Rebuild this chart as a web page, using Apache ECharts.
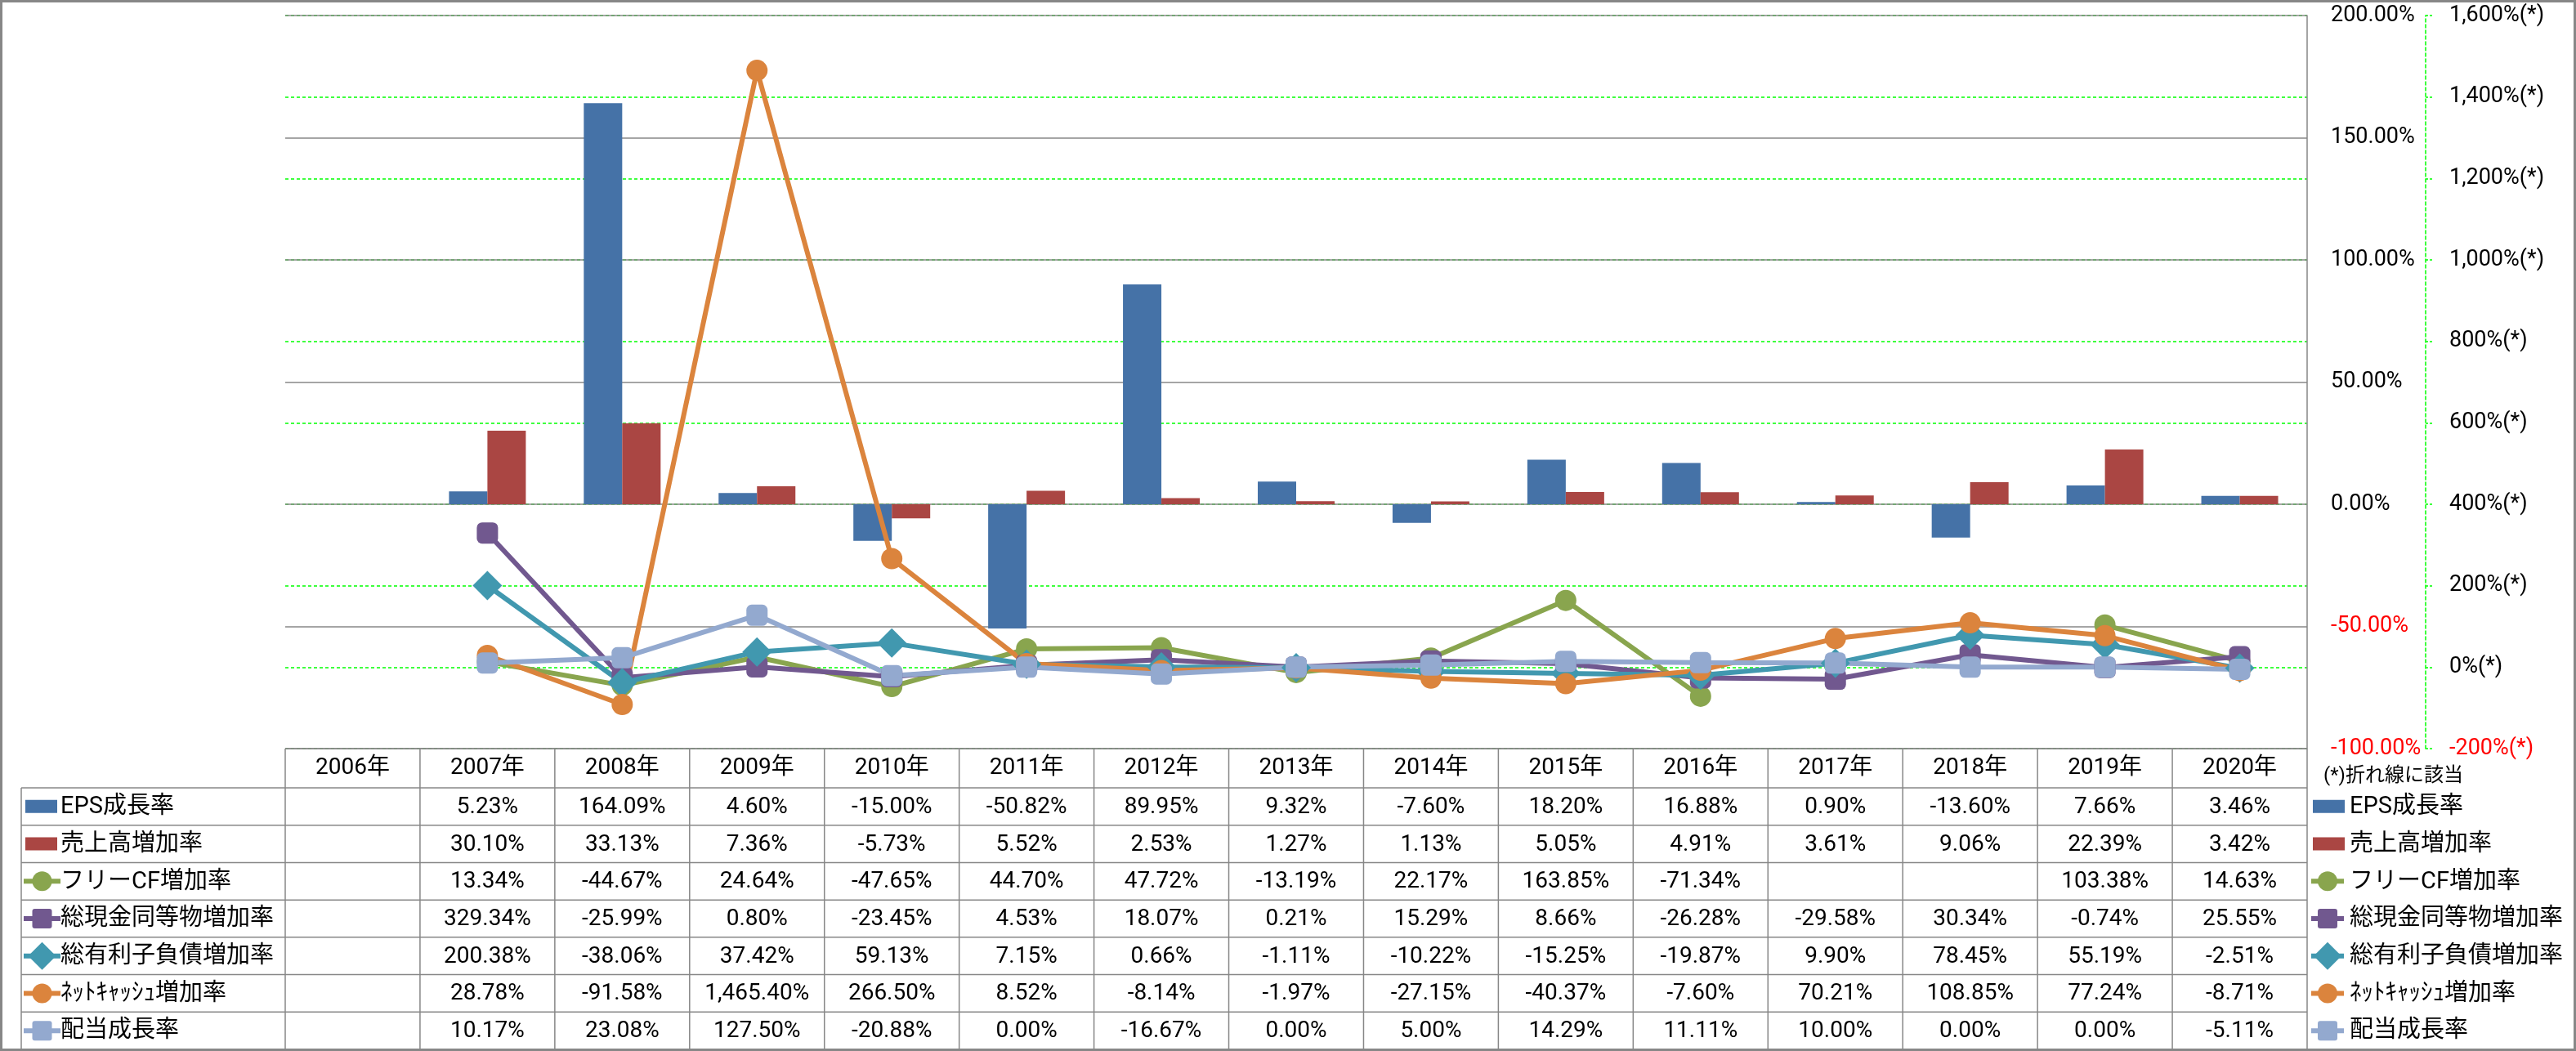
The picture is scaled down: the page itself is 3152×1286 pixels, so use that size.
<!DOCTYPE html>
<html><head><meta charset="utf-8">
<script src="https://cdn.jsdelivr.net/npm/echarts@6/dist/echarts.min.js"></script>
<style>html,body{margin:0;padding:0;background:#fff}#c{width:3152px;height:1286px}</style>
</head><body><div id="c"></div>
<script>
// ---------- DATA ----------
const categories = ['2006年','2007年','2008年','2009年','2010年','2011年','2012年','2013年','2014年','2015年','2016年','2017年','2018年','2019年','2020年'];
const epsGrowth      = [null, 5.23, 164.09, 4.60, -15.00, -50.82, 89.95, 9.32, -7.60, 18.20, 16.88, 0.90, -13.60, 7.66, 3.46];
const salesGrowth    = [null, 30.10, 33.13, 7.36, -5.73, 5.52, 2.53, 1.27, 1.13, 5.05, 4.91, 3.61, 9.06, 22.39, 3.42];
const freeCfGrowth   = [null, 13.34, -44.67, 24.64, -47.65, 44.70, 47.72, -13.19, 22.17, 163.85, -71.34, null, null, 103.38, 14.63];
const cashGrowth     = [null, 329.34, -25.99, 0.80, -23.45, 4.53, 18.07, 0.21, 15.29, 8.66, -26.28, -29.58, 30.34, -0.74, 25.55];
const debtGrowth     = [null, 200.38, -38.06, 37.42, 59.13, 7.15, 0.66, -1.11, -10.22, -15.25, -19.87, 9.90, 78.45, 55.19, -2.51];
const netCashGrowth  = [null, 28.78, -91.58, 1465.40, 266.50, 8.52, -8.14, -1.97, -27.15, -40.37, -7.60, 70.21, 108.85, 77.24, -8.71];
const dividendGrowth = [null, 10.17, 23.08, 127.50, -20.88, 0.00, -16.67, 0.00, 5.00, 14.29, 11.11, 10.00, 0.00, 0.00, -5.11];
const seriesNames = ['EPS成長率','売上高増加率','フリーCF増加率','総現金同等物増加率','総有利子負債増加率','ﾈｯﾄｷｬｯｼｭ増加率','配当成長率'];
const noteText = '(*)折れ線に該当';

// ---------- LAYOUT / STYLE ----------
const W = 3152, H = 1286;
const GL = 349, GR = 2823, GT = 19, GB = 916;
const colW = (GR - GL) / categories.length;
const headTop = 916, rowTop = 964, rowBottom = 1284, rowH = (rowBottom - rowTop) / 7;
const FONT = "Roboto, 'Noto Sans CJK JP', sans-serif";
const GRAY = '#878787';
const defs = [
  {data: epsGrowth,      color: '#4572a7', kind: 'bar'},
  {data: salesGrowth,    color: '#aa4643', kind: 'bar'},
  {data: freeCfGrowth,   color: '#89a54e', kind: 'line', symbol: 'circle'},
  {data: cashGrowth,     color: '#71588f', kind: 'line', symbol: 'roundRect'},
  {data: debtGrowth,     color: '#4198af', kind: 'line', symbol: 'diamond'},
  {data: netCashGrowth,  color: '#db843d', kind: 'line', symbol: 'circle'},
  {data: dividendGrowth, color: '#93a9cf', kind: 'line', symbol: 'roundRect'}
];
const symSize = {circle: 26, roundRect: 26, diamond: 36};

function fmtPct(v) {
  if (v === null || v === undefined) return '';
  return v.toLocaleString('en-US', {minimumFractionDigits: 2, maximumFractionDigits: 2}) + '%';
}

const series = defs.map((d, i) => {
  if (d.kind === 'bar') {
    return {
      name: seriesNames[i], type: 'bar', yAxisIndex: 0, data: d.data,
      barWidth: 47, barGap: '0%', itemStyle: {color: d.color}
    };
  }
  return {
    name: seriesNames[i], type: 'line', yAxisIndex: 1, data: d.data,
    connectNulls: false, symbol: d.symbol, symbolSize: symSize[d.symbol],
    showAllSymbol: true,
    lineStyle: {color: d.color, width: 6},
    itemStyle: {color: d.color}
  };
});

// ---------- TABLE + LEGENDS (graphic) ----------
const g = [];
function hline(x1, x2, y) { g.push({type: 'line', shape: {x1, y1: y, x2, y2: y}, style: {stroke: GRAY, lineWidth: 1.5}, z: 10}); }
function vline(x, y1, y2) { g.push({type: 'line', shape: {x1: x, y1, x2: x, y2}, style: {stroke: GRAY, lineWidth: 1.5}, z: 10}); }
function txt(text, x, y, align, size, color) {
  g.push({type: 'text', x, y, z: 11, style: {text, fontSize: size, fontFamily: FONT, fill: color || '#000', align: align, verticalAlign: 'middle'}});
}
function swatch(d, x, cy, lineLen) {
  if (d.kind === 'bar') {
    g.push({type: 'rect', shape: {x, y: cy - 8, width: 39, height: 16}, style: {fill: d.color}, z: 11});
    return;
  }
  g.push({type: 'line', shape: {x1: x - 2, y1: cy, x2: x + lineLen, y2: cy}, style: {stroke: d.color, lineWidth: 6}, z: 11});
  const cx = x + lineLen / 2 - 1;
  if (d.symbol === 'circle') {
    g.push({type: 'circle', shape: {cx, cy, r: 12}, style: {fill: d.color}, z: 12});
  } else if (d.symbol === 'roundRect') {
    g.push({type: 'rect', shape: {x: cx - 12, y: cy - 12, width: 24, height: 24, r: 3}, style: {fill: d.color}, z: 12});
  } else {
    g.push({type: 'polygon', shape: {points: [[cx, cy - 17], [cx + 17, cy], [cx, cy + 17], [cx - 17, cy]]}, style: {fill: d.color}, z: 12});
  }
}

// header row
hline(GL, GR, headTop);
categories.forEach((c, i) => txt(c, GL + colW * (i + 0.5), (headTop + rowTop) / 2, 'center', 28));
// row lines
for (let k = 0; k <= 7; k++) hline(26, GR, rowTop + rowH * k);
// vertical lines
for (let i = 0; i <= categories.length; i++) vline(GL + colW * i, headTop, rowBottom);
vline(26, rowTop, rowBottom);
// rows
defs.forEach((d, r) => {
  const cy = rowTop + rowH * (r + 0.5);
  swatch(d, 31, cy, 43);
  txt(seriesNames[r], 74, cy + 1, 'left', 29);
  d.data.forEach((v, i) => txt(fmtPct(v), GL + colW * (i + 0.5), cy + 1, 'center', 28));
  // right legend
  swatch(d, 2830, cy, 38);
  txt(seriesNames[r], 2875, cy + 1, 'left', 29);
});
txt(noteText, 2843, 950, 'left', 24);
// outer border
g.push({type: 'rect', shape: {x: 1.5, y: 1.5, width: W - 3, height: H - 3}, style: {fill: null, stroke: GRAY, lineWidth: 3}, z: 20});

// ---------- CHART ----------
const chart = echarts.init(document.getElementById('c'), null, {renderer: 'canvas'});
chart.setOption({
  animation: false,
  backgroundColor: '#fff',
  grid: {left: GL, right: W - GR, top: GT, bottom: H - GB, containLabel: false},
  xAxis: {
    type: 'category', data: categories, boundaryGap: true,
    axisLine: {show: false}, axisTick: {show: false}, axisLabel: {show: false}, splitLine: {show: false}
  },
  yAxis: [
    {
      type: 'value', position: 'right', min: -100, max: 200, interval: 50, z: 1,
      axisLine: {show: true, lineStyle: {color: GRAY, width: 1.5}},
      axisTick: {show: false},
      splitLine: {show: true, lineStyle: {color: GRAY, width: 1.5}},
      axisLabel: {
        margin: 29, fontSize: 27, fontFamily: FONT,
        color: v => (Number(v) < 0 ? '#ff0000' : '#000000'),
        formatter: v => v.toFixed(2) + '%'
      }
    },
    {
      type: 'value', position: 'right', offset: 145, min: -200, max: 1600, interval: 200, z: 0,
      axisLine: {show: true, lineStyle: {color: '#00ff00', width: 1.5, type: [4, 3]}},
      axisTick: {show: true, inside: false, length: 9, lineStyle: {color: '#00ff00', width: 1.5, type: [3, 2]}},
      splitLine: {show: true, lineStyle: {color: '#00ff00', width: 1.5, type: [4, 3]}},
      axisLabel: {
        margin: 29, fontSize: 27, fontFamily: FONT,
        color: v => (Number(v) < 0 ? '#ff0000' : '#000000'),
        formatter: v => v.toLocaleString('en-US') + '%(*)'
      }
    }
  ],
  series: series,
  graphic: g
});
</script></body></html>
